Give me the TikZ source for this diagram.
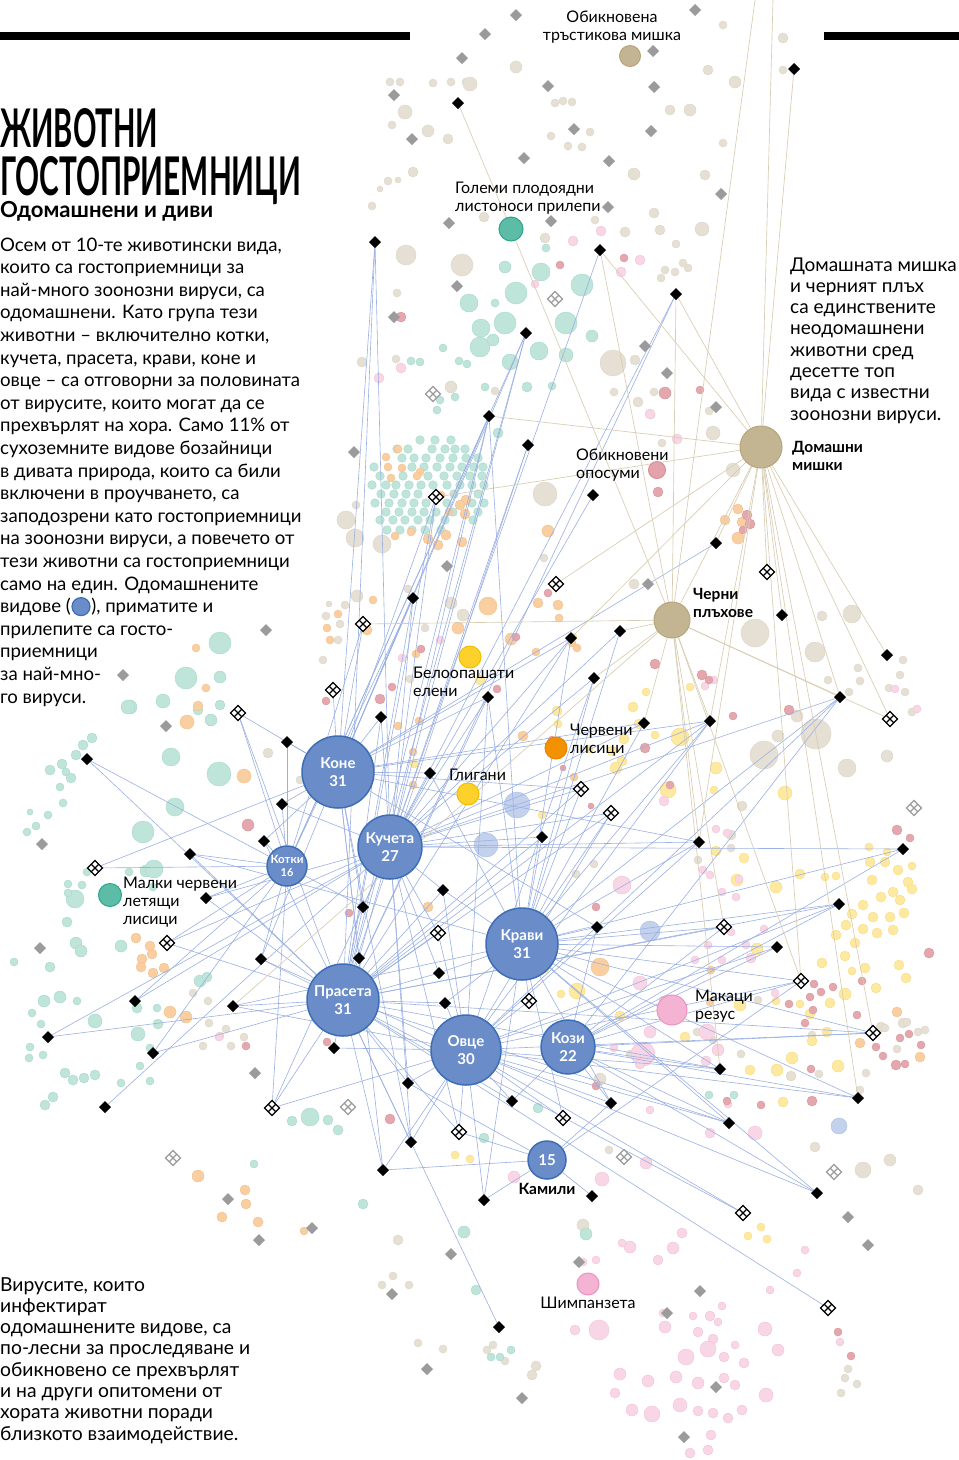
\documentclass[tikz,border=0pt]{standalone}
\usepackage{fontspec}
\setmainfont{Lato}
\usetikzlibrary{shapes.geometric,calc}
\definecolor{hubfill}{HTML}{6A8DCA}
\definecolor{hubdraw}{HTML}{3D6DB5}
\definecolor{tanfill}{HTML}{C4B592}
\definecolor{tandraw}{HTML}{B6A57D}
\definecolor{beigef}{HTML}{E6E0D4}
\definecolor{beiged}{HTML}{DDD5C6}
\definecolor{tealf}{HTML}{BFE4DA}
\definecolor{teald}{HTML}{A6D9CB}
\definecolor{orangef}{HTML}{F9CFA2}
\definecolor{oranged}{HTML}{F5BF88}
\definecolor{yellowf}{HTML}{FEE9A0}
\definecolor{yellowd}{HTML}{FADB80}
\definecolor{pinkf}{HTML}{F9D6E6}
\definecolor{pinkd}{HTML}{F3C2D8}
\definecolor{rosef}{HTML}{E3A7AD}
\definecolor{rosed}{HTML}{D9959C}
\definecolor{lbluef}{HTML}{C3D1EC}
\definecolor{lblued}{HTML}{A9BEE4}
\definecolor{grayd}{HTML}{9B9B9B}
\definecolor{edgeblue}{HTML}{9AB0E3}
\definecolor{edgetan}{HTML}{D8CDB2}
\definecolor{batf}{HTML}{5DBCA6}
\definecolor{batd}{HTML}{2AA68B}
\definecolor{deerf}{HTML}{FDD12B}
\definecolor{deerd}{HTML}{F3BD00}
\definecolor{foxf}{HTML}{F39200}
\definecolor{foxd}{HTML}{E98300}
\definecolor{macf}{HTML}{F4B3D3}
\definecolor{macd}{HTML}{EC92BE}
\definecolor{oposf}{HTML}{E4A3AA}
\definecolor{oposd}{HTML}{D98E97}
\pgfdeclarelayer{dots}
\pgfdeclarelayer{edges}
\pgfsetlayers{dots,edges,main}
\tikzset{
  eb/.style={draw=edgeblue, line width=0.6pt},
  et/.style={draw=edgetan, line width=0.65pt},
  bv/.style={diamond, fill=black, inner sep=0, outer sep=0, minimum size=12pt},
  gv/.style={diamond, fill=grayd, inner sep=0, outer sep=0, minimum size=12pt},
  hv/.style={diamond, draw=#1, fill=white, line width=1.1pt, inner sep=0, outer sep=0, minimum size=15pt,
    path picture={
      \draw[draw=#1, line width=1.1pt] ($(path picture bounding box.north)!0.5!(path picture bounding box.west)$) -- ($(path picture bounding box.south)!0.5!(path picture bounding box.east)$);
      \draw[draw=#1, line width=1.1pt] ($(path picture bounding box.north)!0.5!(path picture bounding box.east)$) -- ($(path picture bounding box.south)!0.5!(path picture bounding box.west)$);}},
  hv/.default=black,
  hub/.style={circle, fill=hubfill, draw=hubdraw, line width=1.5pt, inner sep=0, text=white, align=center, font=\bfseries\fontsize{15}{18}\selectfont},
  tanhub/.style={circle, fill=tanfill, draw=tandraw, line width=1pt, inner sep=0},
  sp/.style={circle, inner sep=0, line width=1pt},
  txt/.style={anchor=base west, inner sep=0, font=\fontsize{18.6}{20}\selectfont},
  txtr/.style={anchor=base west, inner sep=0, font=\fontsize{19}{20}\selectfont},
  txtb/.style={anchor=base west, inner sep=0, font=\fontsize{19.3}{20}\selectfont},
  lab/.style={inner sep=0, align=left, font=\fontsize{16}{18}\selectfont},
  blab/.style={inner sep=0, align=left, font=\bfseries\fontsize{15.5}{18}\selectfont},
}
\begin{document}
\begin{tikzpicture}[x=1pt,y=-1pt]
\useasboundingbox (0,0) rectangle (959,1460);

% ---------- background dots ----------
\begin{pgfonlayer}{dots}
\fill[white] (0,0) rectangle (959,1460);
\foreach \x/\y/\r in {516/67/6,451/82/4,466/82/4,390/82/4,400/82/4,433/83/4,470/84/7,405/112/7,392/125/4,428/131/6,448/139/5,572/102/4,563/101/4,555/103/4,568/146/4,582/147/4,551/136/4,590/132/4,723/25/4,708/70/5,735/82/6,705/175/5,690/110/6,634/174/6,670/110/5,654/213/5,723/143/4,783/38/5,783/70/4,
388/181/4,398/180/3,380/189/3,372/206/4,413/172/5,406/255/10,462/265/11,397/293/4,362/362/5,396/359/4,451/387/6,495/391/4,545/238/5,484/217/5,595/220/4,625/232/5,660/230/5,683/263/4,675/272/4,665/270/4,688/268/4,661/278/4,702/229/7,676/244/4,613/363/13,614/392/4,638/402/5,654/392/4,635/360/5,651/415/4,709/411/4,713/433/7,662/443/4,733/470/7,634/584/5,755/633/14,822/616/5,852/614/9,815/652/10,828/680/4,849/692/4,860/681/4,858/668/4,889/688/4,903/660/4,900/675/4,905/692/4,912/712/4,887/756/6,847/768/9,816/734/15,764/755/14,778/736/6,797/716/6,742/806/5,731/835/5,731/848/4,698/860/4,594/864/4,576/874/4,630/1054/4,561/1062/4,697/1032/4,713/1040/4,741/1054/4,860/1090/4,863/1170/8,815/1147/5,791/1076/5,812/1035/4,819/1074/4,881/1027/5,903/1023/5,866/1073/4,
346/520/9,356/505/4,355/538/9,357/596/6,345/605/4,329/604/3,326/616/4,340/624/4,338/640/4,323/660/4,382/544/9,408/589/4,425/628/4,410/679/4,451/603/6,463/615/6,545/494/12,544/558/4,300/780/4,268/753/5,398/1240/5,393/1276/4,382/1285/4,409/1285/4,418/1343/4,443/1349/4,536/1366/5,532/1375/5,493/1345/4,505/1361/4,487/1350/4,231/1046/4,220/1036/4,203/1046/4,244/1037/4,208/1001/4,193/993/4,209/1023/4,226/1029/4,848/1369/4,845/1378/4,857/1384/4,841/1393/4,907/1022/4,918/1032/4,885/1028/4,897/1049/4,925/1030/4,609/1150/4,600/1079/6,663/1000/4,758/1000/4,890/1160/6,918/1190/5,583/1225/6}
  \filldraw[fill=beigef, draw=beiged, line width=0.4pt] (\x,\y) circle[radius=\r pt];
\foreach \x/\y/\r in {505/267/6,541/272/9,516/293/11,495/303/4,469/303/9,481/328/9,505/323/11,566/323/11,480/347/10,493/340/6,539/351/9,566/355/7,510/362/8,527/387/5,485/387/4,552/386/4,582/285/11,546/248/4,592/336/6,459/361/4,467/364/4,440/400/4,498/433/5,455/397/4,420/362/4,443/348/4,411/361/4,437/410/4,
220/643/11,186/678/11,220/677/6,163/701/7,130/707/7,220/705/5,211/720/6,198/710/5,171/757/9,219/774/12,175/807/9,143/832/11,63/803/4,48/815/4,30/812/3,36/826/4,27/832/4,62/764/5,76/755/5,83/745/5,92/738/5,71/778/5,50/770/5,60/787/4,66/772/4,75/899/9,82/885/4,68/884/4,68/893/4,146/871/6,153/887/4,67/922/5,76/943/6,81/951/6,121/946/6,14/962/4,50/967/5,44/1001/6,60/997/6,77/1001/4,32/1013/4,41/1024/4,30/1047/4,43/1055/4,29/1058/4,95/1021/7,138/1034/7,150/1048/4,158/1024/5,157/1008/4,140/1066/4,150/1081/4,84/1078/5,73/1080/5,65/1073/5,53/1097/5,45/1105/5,95/1075/5,137/1008/5,200/981/6,121/1083/4,310/1117/9,328/1120/5,338/1130/5,292/1121/5,254/1164/4,363/1204/5,484/1138/5,538/1108/5,709/1095/4,734/1095/4,586/1234/6,464/1232/6,476/1290/5,500/1357/4,511/1350/4,491/1357/4,207/977/5,154/869/9,128/707/7,129/872/4,87/872/4}
  \filldraw[fill=tealf, draw=teald, line width=0.4pt] (\x,\y) circle[radius=\r pt];
% teal cluster of bats
\foreach \x in {420,435,451} \filldraw[fill=tealf, draw=teald, line width=0.4pt] (\x,440) circle[radius=4.3pt];
\foreach \x in {397,408,432,445,455,465} \filldraw[fill=tealf, draw=teald, line width=0.4pt] (\x,449) circle[radius=4.3pt];
\foreach \x in {402,414,426,440,453,466,478} \filldraw[fill=tealf, draw=teald, line width=0.4pt] (\x,458) circle[radius=4.3pt];
\foreach \x in {374,412,424,437,450,462,474,483} \filldraw[fill=tealf, draw=teald, line width=0.4pt] (\x,467) circle[radius=4.3pt];
\foreach \x in {380,403,428,444,457,470,482} \filldraw[fill=tealf, draw=teald, line width=0.4pt] (\x,476) circle[radius=4.3pt];
\foreach \x in {372,386,396,409,421,433,447,460,472,484} \filldraw[fill=tealf, draw=teald, line width=0.4pt] (\x,485) circle[radius=4.3pt];
\foreach \x in {381,394,406,418,454,478} \filldraw[fill=tealf, draw=teald, line width=0.4pt] (\x,494) circle[radius=4.3pt];
\foreach \x in {375,389,402,414,426,447,472,484} \filldraw[fill=tealf, draw=teald, line width=0.4pt] (\x,503) circle[radius=4.3pt];
\foreach \x in {386,399,412,424,436,453,478} \filldraw[fill=tealf, draw=teald, line width=0.4pt] (\x,512) circle[radius=4.3pt];
\foreach \x in {380,393,405,418,430,445,473} \filldraw[fill=tealf, draw=teald, line width=0.4pt] (\x,520) circle[radius=4.3pt];
\foreach \x in {387,400,412,425,441} \filldraw[fill=tealf, draw=teald, line width=0.4pt] (\x,530) circle[radius=4.3pt];
\foreach \x/\y/\r in {244/776/7,187/722/7,196/648/4,198/706/5,206/688/4,136/938/5,142/959/5,152/954/5,141/967/5,153/973/5,164/968/5,150/946/5,170/1012/6,186/1017/6,198/1176/6,222/1217/5,245/1190/5,246/1204/5,258/1222/5,304/1231/4,330/640/4,338/614/4,327/628/4,367/630/5,373/600/4,458/628/6,488/606/9,548/531/6,538/603/5,558/605/5,511/639/6,416/654/4,398/726/4,413/752/4,419/721/4,413/785/4,428/907/5,574/777/4,523/736/5,536/652/4,572/643/4,559/618/4,577/648/4,600/967/9,711/970/4,710/1002/4,897/1012/5,920/1057/5,860/1043/5,738/538/6,738/509/5,742/522/5,725/520/5,
388/467/4,402/468/4,420/472/4,391/478/4,417/476/4,466/500/5,460/505/5,465/514/5,462/542/5,446/535/5,438/545/5,428/539/5,386/457/4,398/449/4,441/495/4,395/536/4,411/532/4,449/512/4}
  \filldraw[fill=orangef, draw=oranged, line width=0.4pt] (\x,\y) circle[radius=\r pt];
\foreach \x/\y/\r in {414/764/4,573/637/4,622/761/5,680/737/9,716/768/6,668/790/8,714/790/4,785/793/7,744/858/5,716/851/5,737/880/6,776/887/6,800/874/5,757/949/6,577/991/8,561/994/4,545/969/4,620/1016/5,685/1037/5,719/1048/4,777/1070/6,792/1058/6,750/1070/5,783/1102/5,800/1004/4,810/1014/5,827/1032/5,812/1041/5,838/1066/6,830/1003/5,822/963/5,845/956/5,852/971/4,865/968/5,876/988/5,906/978/5,899/965/5,872/880/5,870/862/5,885/862/5,898/870/5,908/882/5,893/892/5,881/897/5,900/900/5,912/889/5,863/905/5,852/914/5,873/917/5,890/917/5,904/913/5,863/929/5,877/933/5,893/930/5,855/943/5,846/925/5,836/935/5,825/877/4,836/876/4,912/866/4,869/847/4,887/852/4,542/815/4,470/1159/4,455/1155/4,761/1227/4,767/1239/4,748/1236/4,480/680/5,557/711/5,639/724/5,612/751/5,624/739/5,633/707/5,558/724/4,616/768/6,589/749/4,655/735/4,690/687/4,740/1005/6,646/692/4,776/1001/4,845/994/6}
  \filldraw[fill=yellowf, draw=yellowd, line width=0.4pt] (\x,\y) circle[radius=\r pt];
\foreach \x/\y/\r in {601/231/5,573/241/5,640/260/5,621/272/5,401/368/5,379/378/5,650/414/5,677/439/5,535/284/4,622/885/9,640/983/7,643/1054/12,707/1032/8,706/1061/5,718/1050/6,650/1032/6,640/1064/5,722/892/4,710/875/4,739/879/4,736/897/4,751/958/5,716/829/4,664/801/5,703/870/4,731/932/4,746/945/4,764/929/4,775/993/4,755/1133/7,710/1133/5,646/1163/6,602/1179/7,514/1177/6,599/1330/10,575/1330/5,440/640/4,402/658/4,705/686/4,714/680/4,727/833/4,728/1104/4,682/1233/5,673/1248/6,658/1260/5,630/1247/6,663/1313/4,693/1316/4,710/1316/5,718/1322/4,713/1339/5,735/1345/4,698/1332/5,722/1306/4,724/1357/5,744/1363/5,686/1357/8,708/1349/8,724/1378/5,676/1377/6,698/1383/6,735/1385/5,742/1410/5,680/1405/7,713/1413/5,698/1411/5,728/1418/5,711/1435/5,708/1450/5,690/1453/5,620/1374/6,648/1381/6,615/1393/5,632/1410/6,652/1414/8,665/1327/6,765/1329/7,778/1350/6,766/1395/7,770/1290/4,797/1273/4,805/1250/4,622/1243/4,840/1342/4,583/1262/4,596/1260/4,219/1037/4,895/689/4,917/709/4,614/1048/4,650/1110/4,695/960/4,708/945/4,722/960/4}
  \filldraw[fill=pinkf, draw=pinkd, line width=0.4pt] (\x,\y) circle[radius=\r pt];
\foreach \x/\y/\r in {658/492/5,560/265/4,401/317/5,624/258/4,665/393/6,700/390/4,747/515/5,750/524/5,743/530/4,655/664/5,702/675/5,709/680/4,733/716/4,789/710/5,670/785/4,591/806/3,645/748/5,563/768/3,349/913/4,327/1042/4,246/1046/4,380/699/5,326/701/4,392/687/4,421/649/4,497/689/4,516/637/4,548/593/4,552/740/4,897/830/5,910/838/4,862/981/4,814/984/4,821/992/4,810/997/4,833/987/4,857/1015/4,900/1038/4,909/1034/4,883/1056/4,876/1047/4,896/1065/5,905/1064/4,921/1045/4,805/1023/4,813/1010/4,789/1004/4,811/1069/4,812/1101/5,929/953/5,727/1101/4,761/1105/4,390/1119/5,248/825/6,851/1356/4,838/1332/4,596/907/4,596/1086/4}
  \filldraw[fill=rosef, draw=rosed, line width=0.4pt] (\x,\y) circle[radius=\r pt];
\foreach \x/\y/\r in {517/805/13,486/845/12,650/931/10,839/1126/8}
  \filldraw[fill=lbluef, draw=lblued, line width=0.4pt] (\x,\y) circle[radius=\r pt];
\end{pgfonlayer}

% ---------- rules and titles ----------
\fill[black] (0,32) rectangle (410,39.5);
\fill[black] (824,32) rectangle (959,39.5);
\node[anchor=north west, inner sep=0] (title1) at (0,108) {\resizebox{158pt}{39pt}{\bfseries ЖИВОТНИ}};
\node[anchor=north west, inner sep=0] (title2) at (0,156) {\resizebox{301pt}{39pt}{\bfseries ГОСТОПРИЕМНИЦИ}};
\node[anchor=base west, inner sep=0] (subt) at (0,217) {\resizebox{213pt}{!}{\bfseries Одомашнени и диви}};

% ---------- left text ----------
\node[txt] (t1) at (0,251) {Осем от 10-те животински вида,};
\node[txt] (t2) at (0,273.6) {които са гостоприемници за};
\node[txt] (t3) at (0,296.2) {най-много зоонозни вируси, са};
\node[txt] (t4) at (0,318.8) {одомашнени. Като група тези};
\node[txt] (t5) at (0,341.4) {животни – включително котки,};
\node[txt] (t6) at (0,364) {кучета, прасета, крави, коне и};
\node[txt] (t7) at (0,386.6) {овце – са отговорни за половината};
\node[txt] (t8) at (0,409.2) {от вирусите, които могат да се};
\node[txt] (t9) at (0,431.8) {прехвърлят на хора. Само 11\% от};
\node[txt] (t10) at (0,454.4) {сухоземните видове бозайници};
\node[txt] (t11) at (0,477) {в дивата природа, които са били};
\node[txt] (t12) at (0,499.6) {включени в проучването, са};
\node[txt] (t13) at (0,522.2) {заподозрени като гостоприемници};
\node[txt] (t14) at (0,544.8) {на зоонозни вируси, а повечето от};
\node[txt] (t15) at (0,567.4) {тези животни са гостоприемници};
\node[txt] (t16) at (0,590) {само на един. Одомашнените};
\node[txt] (t17a) at (0,612.6) {видове (};
\node[circle, fill=hubfill, draw=hubdraw, line width=1.2pt, minimum size=18pt, inner sep=0] (legc) at ($(t17a.base east)+(10,-6)$) {};
\node[txt] (t17b) at ($(legc.east)+(0.5,6)$) {), приматите и};
\node[txt] (t18) at (0,635.2) {прилепите са госто-};
\node[txt] (t19) at (0,657.8) {приемници};
\node[txt] (t20) at (0,680.4) {за най-мно-};
\node[txt] (t21) at (0,703) {го вируси.};

% ---------- right text ----------
\node[txtr] (r1) at (790,271) {Домашната мишка};
\node[txtr] (r2) at (790,292.3) {и черният плъх};
\node[txtr] (r3) at (790,313.6) {са единствените};
\node[txtr] (r4) at (790,334.9) {неодомашнени};
\node[txtr] (r5) at (790,356.2) {животни сред};
\node[txtr] (r6) at (790,377.5) {десетте топ};
\node[txtr] (r7) at (790,398.8) {вида с известни};
\node[txtr] (r8) at (790,420.1) {зоонозни вируси.};

% ---------- bottom text ----------
\node[txtb] (s1) at (0,1291) {Вирусите, които};
\node[txtb] (s2) at (0,1312.3) {инфектират};
\node[txtb] (s3) at (0,1333.6) {одомашнените видове, са};
\node[txtb] (s4) at (0,1354.9) {по-лесни за проследяване и};
\node[txtb] (s5) at (0,1376.2) {обикновено се прехвърлят};
\node[txtb] (s6) at (0,1397.5) {и на други опитомени от};
\node[txtb] (s7) at (0,1418.8) {хората животни поради};
\node[txtb] (s8) at (0,1440.1) {близкото взаимодействие.};

% ---------- virus diamonds ----------
\foreach \n/\x/\y in {b01/458/103,b02/794/69,b03/375/242,b04/600/250,b05/676/294,b06/526/333,b07/489/416,b08/528/445,b09/593/495,b10/716/543,b11/413/598,b12/620/631,b13/571/638,b14/594/678,b15/488/697,b16/381/717,b17/644/723,b18/710/721,b19/840/697,b20/887/655,b21/782/615,b22/287/742,b23/430/773,b24/87/759,b25/282/804,b26/264/841,b27/190/854,b28/206/898,b29/261/959,b30/233/1006,b31/135/1001,b32/48/1037,b33/153/1053,b34/105/1107,b35/542/837,b36/443/890,b37/363/907,b38/359/958,b39/439/973,b40/445/1003,b41/597/927,b42/699/842,b43/903/849,b44/839/904,b45/777/947,b46/720/1069,b47/858/1098,b48/334/1048,b49/408/1083,b50/512/1101,b51/611/1103,b52/411/1142,b53/383/1170,b54/484/1200,b55/592/1196,b56/729/1123,b57/817/1193,b58/499/1327}
  \node[bv] (\n) at (\x,\y) {};
\foreach \n/\x/\y in {h01/436/497,h02/556/584,h03/363/624,h04/333/690,h05/238/713,h06/95/868,h07/167/943,h08/272/1108,h09/438/933,h10/529/1001,h11/581/789,h12/611/813,h13/724/927,h14/801/981,h15/873/1033,h16/890/719,h17/767/572,h18/459/1132,h19/563/1118,h20/743/1213,h21/828/1308}
  \node[hv] (\n) at (\x,\y) {};
\foreach \n/\x/\y in {gh1/555/299,gh2/433/394,gh3/914/808,gh4/348/1107,gh5/173/1158,gh6/624/1157,gh7/834/1172}
  \node[hv=grayd] (\n) at (\x,\y) {};
\foreach \n/\x/\y in {g01/516/15,g02/485/34,g03/462/58,g04/394/95,g05/412/139,g06/548/86,g07/574/129,g08/524/158,g09/609/161,g10/653/51,g11/654/87,g12/651/131,g13/695/10,g14/721/194,g15/608/207,g16/551/221,g17/449/223,g18/457/286,g19/394/317,g20/354/452,g21/447/566,g22/645/346,g23/667/373,g24/716/407,g25/648/584,g26/166/726,g27/42/844,g28/40/948,g29/255/1073,g30/228/1199,g31/451/1254,g32/579/1262,g33/392/1294,g34/427/1369,g35/522/1398,g36/700/1291,g37/667/1313,g38/716/1387,g39/684/1437,g40/848/1217,g41/868/1245,g42/266/630,g43/123/675,g44/312/1228,g45/259/1240}
  \node[gv] (\n) at (\x,\y) {};

% ---------- host species ----------
\node[hub, minimum size=72pt] (kone) at (338,772) {Коне\\31};
\node[hub, minimum size=64pt] (kuch) at (390,847) {Кучета\\27};
\node[hub, minimum size=40pt, font=\bfseries\fontsize{11}{13}\selectfont] (kotk) at (287,866) {\resizebox{33pt}{!}{Котки}\\16};
\node[hub, minimum size=72pt] (pras) at (343,1000) {Прасета\\31};
\node[hub, minimum size=72pt] (krav) at (522,944) {Крави\\31};
\node[hub, minimum size=70pt] (ovce) at (466,1050) {Овце\\30};
\node[hub, minimum size=54pt] (kozi) at (568,1047) {Кози\\22};
\node[hub, minimum size=38pt] (kam) at (547,1160) {15};
\node[blab, anchor=center] (kaml) at (547,1189) {Камили};

\node[tanhub, minimum size=42pt] (mice) at (761,447) {};
\node[blab, anchor=west] (micel) at (792,456) {Домашни\\мишки};
\node[tanhub, minimum size=36pt] (rats) at (672,620) {};
\node[blab, anchor=west] (ratsl) at (693,603) {Черни\\плъхове};
\node[tanhub, minimum size=21pt] (reed) at (630,56) {};
\node[lab, anchor=center, align=center] (reedl) at (612,27) {Обикновена\\тръстикова мишка};

\node[sp, fill=batf, draw=batd, minimum size=24pt] (bat) at (511,229) {};
\node[lab, anchor=west] (batl) at (455,198) {Големи плодоядни\\листоноси прилепи};
\node[sp, fill=oposf, draw=oposd, minimum size=17pt] (opos) at (657,470) {};
\node[lab, anchor=west] (oposl) at (576,465) {Обикновени\\опосуми};
\node[sp, fill=deerf, draw=deerd, minimum size=22pt] (deer) at (470,657) {};
\node[lab, anchor=west] (deerl) at (413,682) {Белоопашати\\елени};
\node[sp, fill=foxf, draw=foxd, minimum size=22pt] (fox) at (556,748) {};
\node[lab, anchor=west] (foxl) at (570,740) {Червени\\лисици};
\node[sp, fill=deerf, draw=deerd, minimum size=22pt] (boar) at (468,794) {};
\node[lab, anchor=west] (boarl) at (449,775) {Глигани};
\node[sp, fill=batf, draw=batd, minimum size=23pt] (flyfox) at (110,895) {};
\node[lab, anchor=west] (flyfoxl) at (123,902) {Малки червени\\летящи\\лисици};
\node[sp, fill=macf, draw=macd, minimum size=30pt] (mac) at (672,1010) {};
\node[lab, anchor=west] (macl) at (695,1006) {Макаци\\резус};
\node[sp, fill=macf, draw=macd, minimum size=22pt] (chimp) at (588,1284) {};
\node[lab, anchor=center] (chimpl) at (588,1303) {Шимпанзета};

\coordinate (top1) at (755,0);
\coordinate (top2) at (773,0);

% ---------- connectors ----------
\begin{pgfonlayer}{edges}
\foreach \v in {b03,b06,b07,b10,b11,h01,h03,h04,b13,b15,b16,b17,b18,b22,b23,h05,b25,b26,h06,b29,b37,b38,h11,b42,b41,b52,b53}
  \draw[eb] (\v) -- (kone);
\foreach \v in {b03,b04,b05,b06,b07,b08,b09,b11,h01,b13,b12,b14,b15,b16,b17,b18,b19,b23,b25,b28,h07,b31,b32,b34,h08,b35,b36,b37,b38,h09,b39,h11,h12,b42,b43,b49,h18,b52}
  \draw[eb] (\v) -- (kuch);
\foreach \v in {b06,b07,b11,h03,b22,b24,h05,b25,b26,b27,b28,h06,h07,b29,b31,b33,h08,b37}
  \draw[eb] (\v) -- (kotk);
\foreach \v in {b03,b05,b06,b07,b08,b11,h01,b13,b15,b16,b18,b24,h05,b26,b27,b28,h07,b29,b30,b32,b33,h08,b35,b36,b37,b38,h09,b39,b40,h11,h12,b44,h13,h15,b46,b48,b49,b50,h18,b52,b53,b56,h20,h21,b58}
  \draw[eb] (\v) -- (pras);
\foreach \v in {b07,b12,b13,b14,b15,b17,b18,b19,b23,b27,b30,b35,b36,b39,b40,b41,h10,h11,h12,b42,b43,b44,h13,b45,h14,h15,b46,b47,b51,h19,b54,b56,b57}
  \draw[eb] (\v) -- (krav);
\foreach \v in {b14,b15,b18,b19,b29,b30,h08,b36,h09,b40,h10,h12,b42,b44,b45,h14,h15,b46,b47,b48,b49,b50,b51,h18,h19,b52,b53,b54,b56,b57,h20}
  \draw[eb] (\v) -- (ovce);
\foreach \v in {b19,b41,b43,b44,h13,b45,h14,h15,b46,b47,b50,b51,b56,b57}
  \draw[eb] (\v) -- (kozi);
\foreach \v in {h14,b49,b51,h18,b53,b54,b55}
  \draw[eb] (\v) -- (kam);
\foreach \v in {b02,b04,b05,b07,h01,b20,b19,h16,h15,b21,h17,h02,b13,b18,b42,b47,h14,top2,rats,b10}
  \draw[et] (\v) -- (mice);
\foreach \v in {top1,b04,b05,h03,b12,b17,b18,b42,h13,b46,h14,b30,b19,h16,b14}
  \draw[et] (\v) -- (rats);
\draw[et] (b01) -- (bat);
\draw[et] (bat) -- (rats);
\end{pgfonlayer}
\end{tikzpicture}
\end{document}
